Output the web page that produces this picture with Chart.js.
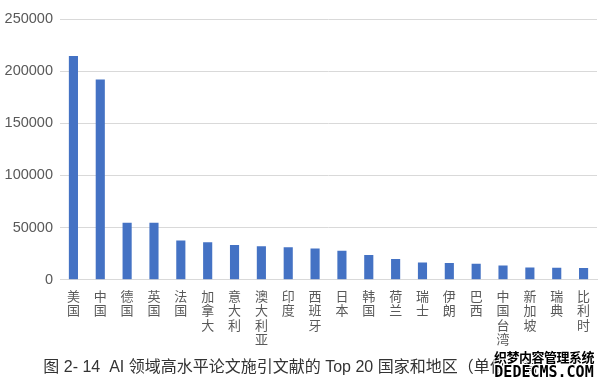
<!DOCTYPE html>
<html>
<head>
<meta charset="utf-8">
<script src="https://cdn.jsdelivr.net/npm/chart.js@4/dist/chart.umd.min.js"></script>
<style>
  html, body { margin: 0; padding: 0; background: #fff; }
  #wrap { position: relative; width: 600px; height: 390px; }
  #wm { position: absolute; left: 488px; top: 350px; width: 112px; text-align: center;
        font-weight: bold; color: #000; line-height: 1;
        text-shadow: -1px -1px 0 #fff, 1px -1px 0 #fff, -1px 1px 0 #fff, 1px 1px 0 #fff; }
  #wm .l1 { font-family: "Noto Sans CJK SC", sans-serif; font-size: 13px; letter-spacing: -0.5px; }
  #wm .l2 { font-family: "DejaVu Sans Mono", monospace; font-size: 15px; margin-top: 2px; }
</style>
</head>
<body>
<div id="wrap">
  <canvas id="chart" width="600" height="390"></canvas>
  <div id="wm"><div class="l1">织梦内容管理系统</div><div class="l2">DEDECMS.COM</div></div>
</div>
<script>
// 国家和地区（按被引文献数排序）
const countries = ["美国", "中国", "德国", "英国", "法国", "加拿大", "意大利", "澳大利亚", "印度", "西班牙",
  "日本", "韩国", "荷兰", "瑞士", "伊朗", "巴西", "中国台湾", "新加坡", "瑞典", "比利时"]
// 施引文献数量（篇）
const citations = [214500, 192000, 54800, 54800, 37700, 35900, 33400, 32200, 31200, 30100,
  27900, 23700, 19900, 16700, 16000, 15400, 13800, 11900, 11500, 11200]
const yTicks = [0, 50000, 100000, 150000, 200000, 250000]

const caption = "图 2- 14  AI 领域高水平论文施引文献的 Top 20 国家和地区（单位：篇）"
const fontFamily = '"Liberation Sans", "Noto Sans CJK SC", sans-serif'

// 竖排标签：每个字一行
const verticalLabels = countries.map(name => Array.from(name))

new Chart(document.getElementById("chart"), {
  type: "bar",
  data: {
    labels: verticalLabels,
    datasets: [{
      data: citations,
      backgroundColor: "#4472c4",
      categoryPercentage: 1,
      barPercentage: 0.34
    }]
  },
  options: {
    responsive: false,
    animation: false,
    layout: { padding: { top: 19, right: 3, left: 0, bottom: 9 } },
    plugins: {
      legend: { display: false },
      tooltip: { enabled: false },
      title: {
        display: true,
        position: "bottom",
        text: caption,
        color: "#333333",
        font: { family: fontFamily, size: 16, weight: "normal" },
        padding: { top: 8, bottom: 4 }
      }
    },
    scales: {
      x: {
        grid: { display: false },
        border: { color: "#d9d9d9" },
        ticks: {
          color: "#595959",
          autoSkip: false,
          maxRotation: 0,
          minRotation: 0,
          padding: 2,
          font: { family: fontFamily, size: 13, lineHeight: 1.12 }
        },
        afterFit: scale => { scale.height = 70 }
      },
      y: {
        min: 0,
        max: 250000,
        afterBuildTicks: scale => { scale.ticks = yTicks.map(v => ({ value: v })) },
        grid: { color: "#d9d9d9", drawTicks: false },
        border: { display: false },
        ticks: {
          color: "#595959",
          padding: 7,
          font: { family: fontFamily, size: 14.5 },
          callback: value => String(value)
        },
        afterFit: scale => { scale.width = 60 }
      }
    }
  }
})
</script>
</body>
</html>
